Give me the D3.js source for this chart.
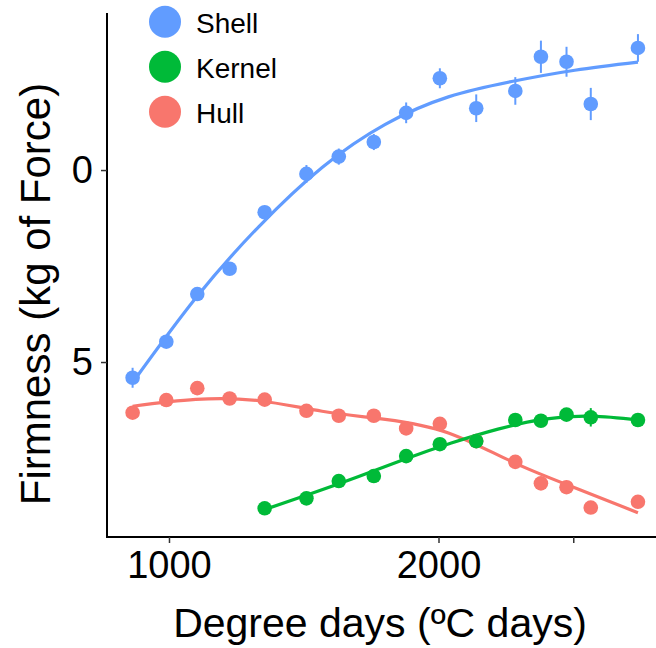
<!DOCTYPE html>
<html>
<head>
<meta charset="utf-8">
<script src="https://cdn.jsdelivr.net/npm/d3@7"></script>
<style>
  html, body { margin: 0; padding: 0; background: #fff; }
  svg { display: block; font-family: "Liberation Sans", Arial, Helvetica, sans-serif; }
</style>
</head>
<body>
<svg id="chart" width="656" height="648"></svg>
<script>
// Sampling dates (degree days) shared by every tissue
const degreeDays = [865, 990, 1105, 1225, 1355, 1510, 1630, 1760, 1880, 2005, 2140, 2285, 2380, 2475, 2565, 2740];

// Mean firmness (kg of force) and standard errors per tissue
const shellMean = [4.59, 5.53, 6.77, 7.43, 8.90, 9.90, 10.35, 10.73, 11.49, 12.39, 11.61, 12.06, 12.95, 12.82, 11.72, 13.18];
const shellSE   = [0.26, 0.10, 0.10, 0.10, 0.16, 0.23, 0.21, 0.21, 0.27, 0.26, 0.36, 0.36, 0.42, 0.39, 0.42, 0.36];

const kernelDays = [1355, 1510, 1630, 1760, 1880, 2005, 2140, 2285, 2380, 2475, 2565, 2740];
const kernelMean = [1.19, 1.45, 1.90, 2.03, 2.55, 2.86, 2.94, 3.49, 3.47, 3.63, 3.56, 3.49];
const kernelSE   = [0.08, 0.08, 0.08, 0.08, 0.08, 0.10, 0.18, 0.10, 0.10, 0.10, 0.24, 0.10];

const hullMean = [3.68, 4.01, 4.32, 4.05, 4.02, 3.73, 3.60, 3.60, 3.27, 3.39, 2.94, 2.40, 1.84, 1.74, 1.21, 1.36];
const hullSE   = [0.08, 0.08, 0.08, 0.08, 0.08, 0.08, 0.08, 0.08, 0.08, 0.08, 0.08, 0.08, 0.08, 0.08, 0.08, 0.08];

const seriesNames  = ["Shell", "Kernel", "Hull"];
const seriesColors = ["#619CFF", "#00BA38", "#F8766D"];

const xTickValues = [1000, 2000, 2500];
const xTickLabels = ["1000", "2000", ""];
const yTickValues = [5, 10];
const yTickLabels = ["5", "0"];

const xTitle = "Degree days (ºC days)";
const yTitle = "Firmness (kg of Force)";

// ---- layout ----
const W = 656, H = 648;
const plot = { left: 107, right: 656, top: 13, bottom: 537 };

const x = d3.scaleLinear().domain([770, 2807]).range([plot.left, plot.right]);
const y = d3.scaleLinear().domain([0.443, 14.09]).range([plot.bottom, plot.top]);

const svg = d3.select("#chart");

// ---- local quadratic regression (loess, span 0.75, tricube weights) ----
function loess(xs, ys, span, x0) {
  const n = xs.length;
  const q = Math.max(3, Math.floor(n * span));
  const dists = xs.map(v => Math.abs(v - x0)).sort((a, b) => a - b);
  let h = dists[q - 1];
  h = Math.max(h, 1e-9) * 1.0000001;
  // weighted least squares for a + b*t + c*t^2 with t centred at x0
  const S = [[0,0,0],[0,0,0],[0,0,0]], R = [0,0,0];
  for (let i = 0; i < n; i++) {
    const u = Math.abs(xs[i] - x0) / h;
    if (u >= 1) continue;
    const w = Math.pow(1 - u * u * u, 3);
    const t = (xs[i] - x0) / h;
    const basis = [1, t, t * t];
    for (let a = 0; a < 3; a++) {
      R[a] += w * basis[a] * ys[i];
      for (let b = 0; b < 3; b++) S[a][b] += w * basis[a] * basis[b];
    }
  }
  const M = S.map((row, i) => row.concat([R[i]]));
  for (let c = 0; c < 3; c++) {
    let p = c;
    for (let r = c + 1; r < 3; r++) if (Math.abs(M[r][c]) > Math.abs(M[p][c])) p = r;
    [M[c], M[p]] = [M[p], M[c]];
    for (let r = 0; r < 3; r++) {
      if (r === c) continue;
      const f = M[r][c] / M[c][c];
      for (let k = c; k < 4; k++) M[r][k] -= f * M[c][k];
    }
  }
  return M[0][3] / M[0][0];
}

// fit at a handful of vertices; the path is then splined through them
function smoothCurve(xs, ys) {
  const lo = d3.min(xs), hi = d3.max(xs), steps = 8;
  return d3.range(steps + 1).map(i => {
    const xv = lo + (hi - lo) * i / steps;
    return [xv, loess(xs, ys, 0.75, xv)];
  });
}

const series = [
  { name: "Hull",   days: degreeDays, mean: hullMean,   se: hullSE,   color: seriesColors[2] },
  { name: "Kernel", days: kernelDays, mean: kernelMean, se: kernelSE, color: seriesColors[1] },
  { name: "Shell",  days: degreeDays, mean: shellMean,  se: shellSE,  color: seriesColors[0] }
];

const line = d3.line().x(d => x(d[0])).y(d => y(d[1])).curve(d3.curveNatural);

const gLines = svg.append("g");
const gMarks = svg.append("g");

series.forEach(s => {
  gLines.append("path")
    .datum(smoothCurve(s.days, s.mean))
    .attr("d", line)
    .attr("fill", "none")
    .attr("stroke", s.color)
    .attr("stroke-width", 3.2);

  const pts = s.days.map((d, i) => ({ d, m: s.mean[i], e: s.se[i] }));
  const g = gMarks.append("g");
  g.selectAll("line").data(pts).join("line")
    .attr("x1", p => x(p.d)).attr("x2", p => x(p.d))
    .attr("y1", p => y(p.m - p.e)).attr("y2", p => y(p.m + p.e))
    .attr("stroke", s.color).attr("stroke-width", 2);
  g.selectAll("circle").data(pts).join("circle")
    .attr("cx", p => x(p.d)).attr("cy", p => y(p.m))
    .attr("r", 7.3)
    .attr("fill", s.color);
});

// ---- axes ----
const xAxis = d3.axisBottom(x)
  .tickValues(xTickValues)
  .tickFormat((d, i) => xTickLabels[i])
  .tickSize(6).tickPadding(8).tickSizeOuter(0);
const yAxis = d3.axisLeft(y)
  .tickValues(yTickValues)
  .tickFormat((d, i) => yTickLabels[i])
  .tickSize(6).tickPadding(8).tickSizeOuter(0);

const gx = svg.append("g").attr("transform", `translate(0,${plot.bottom})`).call(xAxis);
const gy = svg.append("g").attr("transform", `translate(${plot.left},0)`).call(yAxis);

[gx, gy].forEach(g => {
  g.select(".domain").attr("stroke", "#000").attr("stroke-width", 2);
  g.selectAll(".tick line").attr("stroke", "#333").attr("stroke-width", 1.5);
  g.selectAll(".tick text").attr("fill", "#000").attr("font-size", 38)
    .attr("font-family", "Liberation Sans, Arial, sans-serif");
});
gx.select(".domain").attr("d", `M${plot.left - 1},0H${plot.right}`);
gy.select(".domain").attr("d", `M0,${plot.top}V${plot.bottom + 1}`);

// ---- axis titles ----
svg.append("text")
  .attr("x", 380).attr("y", 637)
  .attr("text-anchor", "middle")
  .attr("font-size", 41)
  .attr("fill", "#000")
  .text(xTitle);

svg.append("text")
  .attr("transform", "translate(50,294) rotate(-90)")
  .attr("text-anchor", "middle")
  .attr("font-size", 42)
  .attr("fill", "#000")
  .text(yTitle);

// ---- legend ----
const legend = svg.append("g");
seriesNames.forEach((name, i) => {
  const cy = 21.7 + i * 45;
  legend.append("circle").attr("cx", 165).attr("cy", cy).attr("r", 16).attr("fill", seriesColors[i]);
  legend.append("text").attr("x", 196).attr("y", cy + 11.5)
    .attr("font-size", 28).attr("fill", "#000").text(name);
});
</script>
</body>
</html>
